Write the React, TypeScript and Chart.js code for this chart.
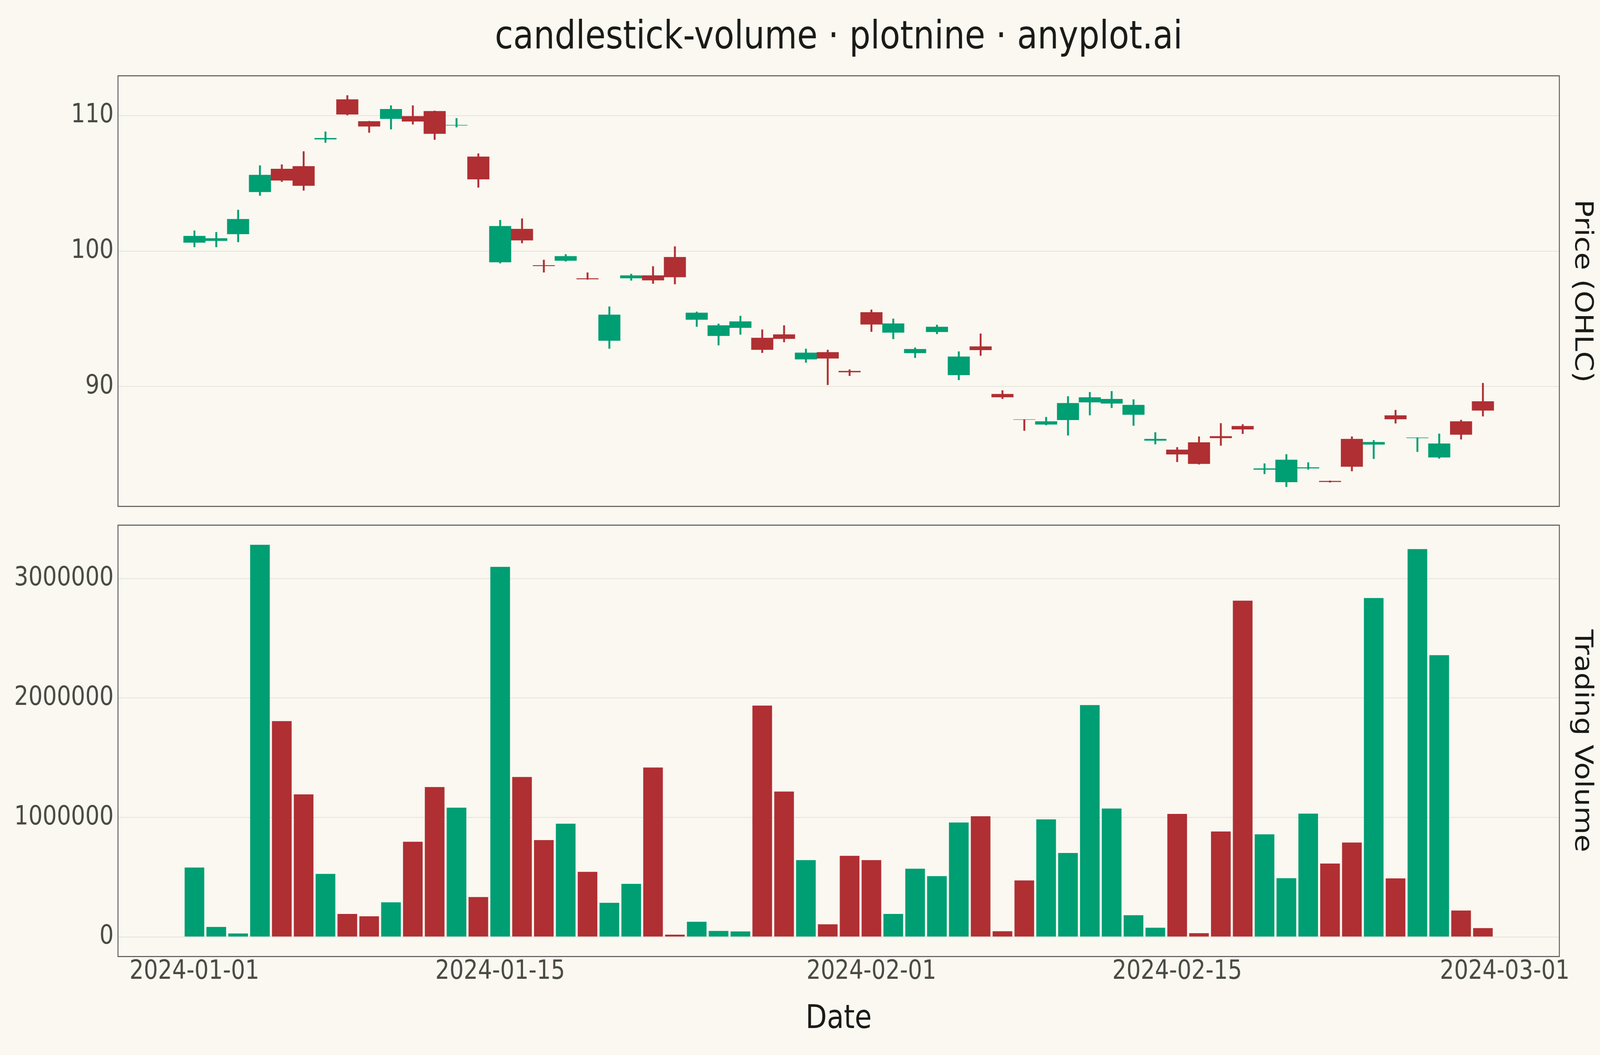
import { useEffect, useRef } from "react";
import { Chart, registerables } from "chart.js";

Chart.register(...registerables);

// Daily OHLC + volume, 2024-01-01 .. 2024-02-29
const startDate = "2024-01-01";

const opens = [
  100.63, 100.76, 101.26, 104.37, 106.07, 106.26, 108.26, 111.2, 109.58, 109.77,
  109.96, 110.33, 109.28, 106.97, 99.18, 101.63, 98.95, 99.3, 97.98, 93.39,
  98.0, 98.2, 99.55, 94.94, 93.74, 94.34, 93.59, 93.84, 92.01, 92.53,
  91.14, 95.48, 93.99, 92.47, 94.03, 90.85, 92.95, 89.44, 87.56, 87.2,
  87.53, 88.84, 88.75, 87.92, 86.01, 85.33, 85.87, 86.32, 87.07, 83.87,
  82.94, 83.96, 83.02, 86.12, 85.72, 87.86, 86.2, 84.77, 87.42, 88.9,
];
const highs = [
  101.51, 101.4, 103.04, 106.32, 106.39, 107.36, 108.82, 111.5, 109.6, 110.75,
  110.75, 110.36, 109.81, 107.2, 102.29, 102.4, 99.35, 99.76, 98.41, 95.9,
  98.31, 98.87, 100.34, 95.52, 94.63, 95.21, 94.2, 94.51, 92.78, 92.7,
  91.25, 95.67, 95.0, 92.87, 94.55, 92.58, 93.9, 89.71, 87.57, 87.74,
  89.27, 89.58, 89.65, 89.04, 86.61, 85.51, 86.3, 87.28, 87.2, 84.31,
  84.99, 84.39, 83.04, 86.3, 86.03, 88.26, 86.23, 86.51, 87.53, 90.25,
];
const lows = [
  100.3, 100.3, 100.67, 104.1, 105.12, 104.48, 108.01, 110.04, 108.75, 109.0,
  109.36, 108.23, 109.15, 104.7, 99.1, 100.59, 98.43, 99.24, 97.9, 92.8,
  97.83, 97.6, 97.56, 94.42, 93.05, 93.84, 92.49, 93.28, 91.77, 90.12,
  90.79, 94.05, 93.51, 92.12, 93.88, 90.48, 92.28, 89.09, 86.74, 87.15,
  86.39, 87.88, 88.42, 87.11, 85.74, 84.43, 84.25, 85.64, 86.51, 83.54,
  82.59, 83.87, 82.92, 83.75, 84.66, 87.28, 85.18, 84.68, 86.1, 87.8,
];
const closes = [
  101.11, 100.94, 102.36, 105.62, 105.22, 104.83, 108.34, 110.1, 109.21, 110.48,
  109.58, 108.67, 109.31, 105.31, 101.84, 100.8, 98.9, 99.62, 97.93, 95.3,
  98.2, 97.85, 98.08, 95.44, 94.51, 94.8, 92.72, 93.53, 92.49, 92.08,
  91.06, 94.59, 94.65, 92.76, 94.4, 92.2, 92.7, 89.21, 87.55, 87.42,
  88.77, 89.19, 89.07, 88.63, 86.12, 84.99, 84.29, 86.2, 86.84, 83.94,
  84.58, 84.02, 82.96, 84.08, 85.89, 87.59, 86.22, 85.78, 86.45, 88.23,
];
const volumes = [
  581000, 84000, 29000, 3283000, 1807000, 1193000, 528000, 192000, 173000, 290000,
  797000, 1255000, 1082000, 334000, 3098000, 1339000, 811000, 948000, 545000, 286000,
  444000, 1418000, 19000, 127000, 50000, 46000, 1937000, 1217000, 643000, 106000,
  679000, 643000, 192000, 571000, 509000, 958000, 1010000, 48000, 473000, 984000,
  703000, 1941000, 1075000, 182000, 77000, 1030000, 31000, 883000, 2815000, 859000,
  492000, 1032000, 614000, 790000, 2837000, 490000, 3247000, 2359000, 221000, 74000,
];

const priceTicks = [90, 100, 110];
const volumeTicks = [0, 1000000, 2000000, 3000000];
const dateTicks = ["2024-01-01", "2024-01-15", "2024-02-01", "2024-02-15", "2024-03-01"];

const TITLE = "candlestick-volume · plotnine · anyplot.ai";
const W = 4800;
const H = 2700;
const BG = "#FAF8F1";
const UP = "#009E73";
const DOWN = "#AF2F33";
const INK = "#1A1A17";
const TICK_INK = "#4A4A44";
const GRID = "#E6E3DA";
const FRAME = "#505050";
const FONT = "'DejaVu Sans', sans-serif";

export default function App() {
  const wrapRef = useRef<HTMLDivElement>(null);
  const canvasRef = useRef<HTMLCanvasElement>(null);
  const chartRef = useRef<Chart | null>(null);

  useEffect(() => {
    document.body.style.margin = "0";
    document.body.style.overflow = "hidden";
    if (!canvasRef.current || !wrapRef.current) return;

    // the drawing is laid out at 4800x2700; stretch it onto whatever viewport we get
    const vw = window.innerWidth;
    const vh = window.innerHeight;
    wrapRef.current.style.width = `${vw}px`;
    wrapRef.current.style.height = `${vh}px`;
    canvasRef.current.style.transform = `scale(${vw / W}, ${vh / H})`;

    if (chartRef.current) {
      chartRef.current.destroy();
    }

    const dayIndex = (d: string) =>
      Math.round((Date.parse(d) - Date.parse(startDate)) / 86400000);
    const xs = opens.map((_, i) => i);
    const barColors = opens.map((o, i) => (closes[i] >= o ? UP : DOWN));

    // plotnine-style 5% expansion of the data ranges
    const pLo = Math.min(...lows);
    const pHi = Math.max(...highs);
    const pPad = (pHi - pLo) * 0.05;
    const vHi = Math.max(...volumes);
    const vPad = vHi * 0.05;
    const xPad = xs.length * 0.05;

    const tickFont = { family: FONT, size: 67, lineHeight: 1 };

    // background, title, panel frames and right-hand strip labels
    const panelPlugin = {
      id: "panels",
      beforeDraw(chart: any) {
        const { ctx, width, height } = chart;
        ctx.save();
        ctx.fillStyle = BG;
        ctx.fillRect(0, 0, width, height);
        ctx.restore();
      },
      afterDraw(chart: any) {
        const { ctx, chartArea, scales } = chart;
        ctx.save();
        ctx.fillStyle = INK;
        ctx.font = `100px ${FONT}`;
        ctx.textAlign = "center";
        ctx.textBaseline = "alphabetic";
        ctx.fillText(TITLE, (chartArea.left + chartArea.right) / 2, 124);

        ctx.strokeStyle = FRAME;
        ctx.lineWidth = 2.5;
        const strips: [string, string][] = [
          ["yPrice", "Price (OHLC)"],
          ["yVol", "Trading Volume"],
        ];
        ctx.font = `74px ${FONT}`;
        for (const [id, label] of strips) {
          const s = scales[id];
          ctx.strokeRect(chartArea.left, s.top, chartArea.right - chartArea.left, s.bottom - s.top);
          ctx.save();
          ctx.translate(chartArea.right + 48, (s.top + s.bottom) / 2);
          ctx.rotate(Math.PI / 2);
          ctx.fillText(label, 0, 0);
          ctx.restore();
        }
        ctx.restore();
      },
    };

    chartRef.current = new Chart(canvasRef.current, {
      type: "bar",
      data: {
        datasets: [
          {
            label: "Volume",
            data: xs.map((x, i) => ({ x, y: volumes[i] })),
            yAxisID: "yVol",
            backgroundColor: barColors,
            barPercentage: 0.9,
            categoryPercentage: 1,
            grouped: false,
          },
          {
            label: "Wick",
            data: xs.map((x, i) => ({ x, y: [lows[i], highs[i]] })),
            yAxisID: "yPrice",
            backgroundColor: barColors,
            barThickness: 5,
            grouped: false,
          },
          {
            label: "Body",
            data: xs.map((x, i) => ({ x, y: [opens[i], closes[i]] })),
            yAxisID: "yPrice",
            backgroundColor: barColors,
            barPercentage: 1,
            categoryPercentage: 1,
            grouped: false,
          },
        ] as any,
      },
      options: {
        responsive: false,
        devicePixelRatio: 1,
        animation: false,
        layout: { padding: { top: 194, right: 122, left: 0, bottom: 0 } },
        plugins: {
          legend: { display: false },
          tooltip: { enabled: false },
        },
        scales: {
          x: {
            type: "linear",
            min: -0.5 - xPad,
            max: xs.length - 0.5 + xPad,
            offset: false,
            grid: { display: false, drawTicks: false },
            border: { display: false },
            afterBuildTicks: (s: any) => {
              s.ticks = dateTicks.map((d) => ({ value: dayIndex(d) }));
            },
            ticks: {
              color: TICK_INK,
              font: tickFont,
              padding: 6,
              maxRotation: 0,
              autoSkip: false,
              callback: (_v: any, i: number) => dateTicks[i],
            },
            title: {
              display: true,
              text: "Date",
              color: INK,
              font: { family: FONT, size: 83, lineHeight: 1 },
              padding: { top: 0, bottom: 49 },
            },
            afterFit: (s: any) => {
              s.height = 252;
            },
          },
          yVol: {
            type: "linear",
            position: "left",
            stack: "panels",
            stackWeight: 1104,
            weight: 1,
            min: -vPad,
            max: vHi + vPad,
            grid: { color: GRID, lineWidth: 2, drawTicks: false },
            border: { display: false },
            afterBuildTicks: (s: any) => {
              s.ticks = volumeTicks.map((v) => ({ value: v }));
            },
            ticks: {
              color: TICK_INK,
              font: tickFont,
              padding: 13,
              callback: (v: any) => String(v),
            },
            afterFit: (s: any) => {
              s.width = 354;
            },
          },
          ySpacer: {
            type: "linear",
            axis: "y",
            position: "left",
            stack: "panels",
            stackWeight: 48,
            weight: 2,
            grid: { display: false, drawTicks: false },
            border: { display: false },
            ticks: { display: false },
            afterFit: (s: any) => {
              s.width = 354;
            },
          },
          yPrice: {
            type: "linear",
            position: "left",
            stack: "panels",
            stackWeight: 1102,
            weight: 3,
            min: pLo - pPad,
            max: pHi + pPad,
            grid: { color: GRID, lineWidth: 2, drawTicks: false },
            border: { display: false },
            afterBuildTicks: (s: any) => {
              s.ticks = priceTicks.map((v) => ({ value: v }));
            },
            ticks: {
              color: TICK_INK,
              font: tickFont,
              padding: 13,
              callback: (v: any) => String(v),
            },
            afterFit: (s: any) => {
              s.width = 354;
            },
          },
        } as any,
      },
      plugins: [panelPlugin],
    });

    return () => {
      if (chartRef.current) {
        chartRef.current.destroy();
        chartRef.current = null;
      }
    };
  }, []);

  return (
    <div ref={wrapRef} style={{ width: W, height: H, background: BG, overflow: "hidden" }}>
      <canvas
        ref={canvasRef}
        width={W}
        height={H}
        style={{ display: "block", width: W, height: H, transformOrigin: "0 0" }}
      />
    </div>
  );
}
